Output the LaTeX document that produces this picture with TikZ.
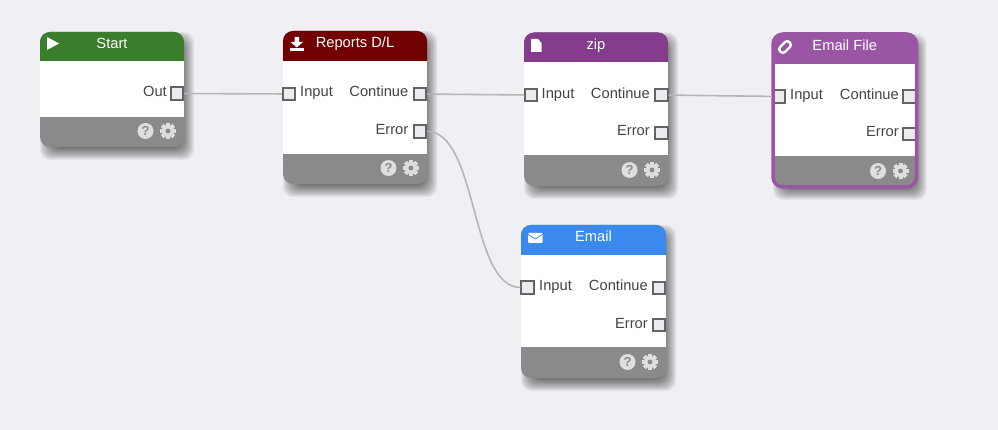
\documentclass[tikz,border=0pt]{standalone}
\usepackage{fontspec}
\setmainfont{Liberation Sans}
\definecolor{flowbg}{RGB}{240,240,244}
\definecolor{flowgray}{RGB}{138,138,138}
\definecolor{flowicon}{RGB}{222,222,222}
\definecolor{flowtext}{RGB}{68,68,68}
\definecolor{flowport}{RGB}{236,236,240}
\definecolor{flowedge}{RGB}{100,100,100}
\definecolor{flowwire}{RGB}{184,180,184}
\definecolor{startgreen}{RGB}{58,125,44}
\definecolor{reportred}{RGB}{114,0,0}
\definecolor{zippurple}{RGB}{132,60,140}
\definecolor{filepurple}{RGB}{154,85,165}
\definecolor{mailblue}{RGB}{58,138,238}
\tikzset{
  port/.style={draw=flowedge, line width=1.8pt, fill=flowport, minimum size=12.4pt, inner sep=0pt},
  portname/.style={text=flowtext, font=\fontsize{14.7}{16}\selectfont, inner sep=0pt, text height=11pt, text depth=3pt},
  cardtitle/.style={text=white, font=\fontsize{14.7}{16}\selectfont, inner sep=0pt, text height=11pt, text depth=3pt},
  wire/.style={draw=flowwire, line width=1.6pt},
  helpicon/.style={circle, fill=flowicon, text=flowgray, minimum size=16pt, inner sep=0pt, font=\bfseries\fontsize{13}{13}\selectfont}
}
% name, left, top, right, header end, footer start, bottom, colour, title
\newcommand{\flowcard}[9]{
  \foreach \g in {12,11,...,0}
    \fill[black, opacity=0.05, rounded corners=10pt] (#2+12-\g,#3+12-\g) rectangle (#4-2+\g,#7+1+\g);
  \fill[flowgray, rounded corners=10pt] (#2,#3) rectangle (#4,#7);
  \fill[white] (#2,#5) rectangle (#4,#6);
  \fill[#8] (#2,#5) [rounded corners=10pt] -- (#2,#3) -- (#4,#3) [sharp corners] -- (#4,#5) -- cycle;
  \node[cardtitle] (#1title) at ({(#2+#4)/2},#3+12.7) {#9};
  \node[helpicon] (#1help) at (#4-38.5,#7-16) {?};
  \fill[flowicon] (#4-16,#7-16) circle (6pt);
  \foreach \a in {0,45,...,315}
    \fill[flowicon, rotate around={\a:(#4-16,#7-16)}] (#4-18,#7-24) rectangle (#4-14,#7-19);
  \fill[flowgray] (#4-16,#7-16) circle (2.4pt);
}
\begin{document}
\begin{tikzpicture}[x=1pt,y=-1pt]
  \useasboundingbox (0,0) rectangle (998,430);
  \fill[flowbg] (0,0) rectangle (998,430);

  \flowcard{start}{40}{32}{184}{61}{117}{147}{startgreen}{Start}
  \flowcard{reports}{283}{31}{427}{61}{154}{184}{reportred}{Reports D/L}
  \flowcard{zip}{524}{32.5}{668}{62}{155}{186}{zippurple}{zip}
  \flowcard{file}{773}{34}{916.5}{64}{156}{187}{filepurple}{Email File}
  \flowcard{mail}{521}{225}{666}{255}{347}{378}{mailblue}{Email}

  % header icons
  \fill[white] (47,37) -- (59,43.5) -- (47,50) -- cycle;
  \fill[white] (294.5,37) -- (299,37) -- (299,42) -- (303,42) -- (296.8,47.5) -- (290.5,42) -- (294.5,42) -- cycle;
  \fill[white] (290,48) rectangle (303.5,51);
  \fill[white] (531,39) -- (538,39) -- (541.5,43) -- (541.5,52) -- (531,52) -- cycle;
  \draw[white, line width=2.4pt, rounded corners=3pt, rotate around={-45:(785,47)}] (781.5,40.5) rectangle (788.5,53.5);
  \fill[white, rounded corners=1pt] (528,233) rectangle (542.5,243);
  \draw[mailblue, line width=0.8pt] (528,234.5) -- (535.2,239) -- (542.5,234.5);

  % ports
  \node[port] (startout) at (177,93.5) {};
  \node[port] (reportsin) at (289,94) {};
  \node[port] (reportscont) at (420,94) {};
  \node[port] (reportserr) at (420,131.5) {};
  \node[port] (zipin) at (531,95) {};
  \node[port] (zipcont) at (661.5,95) {};
  \node[port] (ziperr) at (661.5,133) {};
  \node[port] (filein) at (779,96.5) {};
  \node[port] (filecont) at (909.5,96.5) {};
  \node[port] (fileerr) at (909.5,134) {};
  \node[port] (mailin) at (527.5,287.5) {};
  \node[port] (mailcont) at (659,288) {};
  \node[port] (mailerr) at (659,325) {};

  \draw[filepurple, line width=3.5pt, rounded corners=10pt] (773,34) rectangle (916.5,187);

  % port labels
  \node[portname, anchor=east] (startoutname) at (167,93) {Out};
  \node[portname, anchor=west] (reportsinname) at (300,93) {Input};
  \node[portname, anchor=east] (reportscontname) at (408.5,93) {Continue};
  \node[portname, anchor=east] (reportserrname) at (408.5,130.3) {Error};
  \node[portname, anchor=west] (zipinname) at (541.5,94.3) {Input};
  \node[portname, anchor=east] (zipcontname) at (650,94.3) {Continue};
  \node[portname, anchor=east] (ziperrname) at (650,131.7) {Error};
  \node[portname, anchor=west] (fileinname) at (790,95.3) {Input};
  \node[portname, anchor=east] (filecontname) at (899,95.3) {Continue};
  \node[portname, anchor=east] (fileerrname) at (899,132.7) {Error};
  \node[portname, anchor=west] (mailinname) at (539,286.7) {Input};
  \node[portname, anchor=east] (mailcontname) at (648,286.7) {Continue};
  \node[portname, anchor=east] (mailerrname) at (648,324.3) {Error};

  % wires
  \draw[wire] (startout) -- (reportsin);
  \draw[wire] (reportscont) -- (zipin);
  \draw[wire] (zipcont) -- (filein);
  \draw[wire] (reportserr.east) .. controls (478,131.5) and (470,287.5) .. (mailin.west);
\end{tikzpicture}
\end{document}
